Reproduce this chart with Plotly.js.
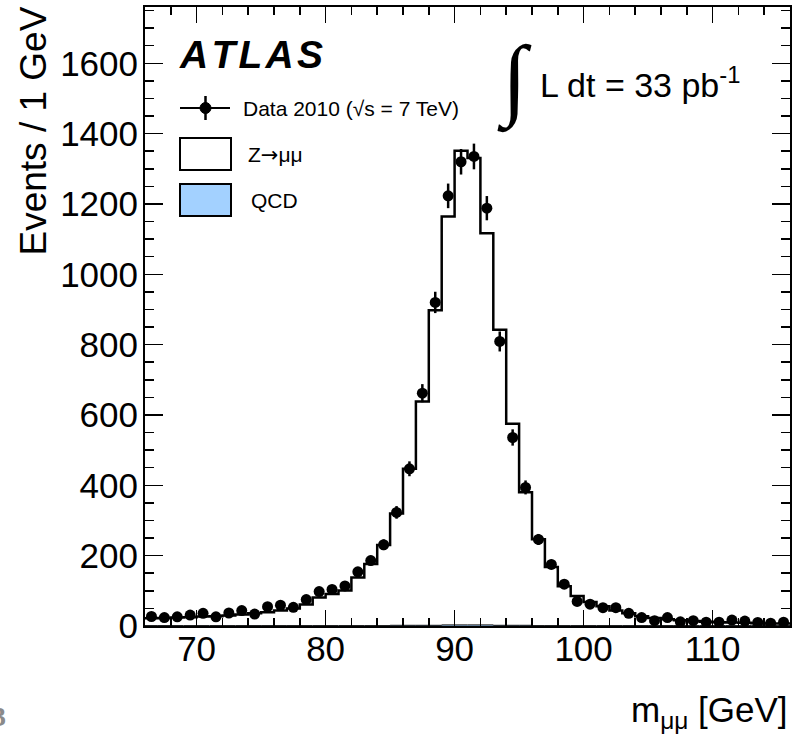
<!DOCTYPE html>
<html>
<head>
<meta charset="utf-8">
<script src="https://cdn.plot.ly/plotly-3.0.1.min.js"></script>
<style>
html,body{margin:0;padding:0;background:#fff;}
#chart{width:799px;height:735px;}
</style>
</head>
<body>
<div id="chart"></div>
<script>
// ---- data (1 GeV bins) ----
const binCenters = [66.5,67.5,68.5,69.5,70.5,71.5,72.5,73.5,74.5,75.5,
  76.5,77.5,78.5,79.5,80.5,81.5,82.5,83.5,84.5,85.5,
  86.5,87.5,88.5,89.5,90.5,91.5,92.5,93.5,94.5,95.5,
  96.5,97.5,98.5,99.5,100.5,101.5,102.5,103.5,104.5,105.5,
  106.5,107.5,108.5,109.5,110.5,111.5,112.5,113.5,114.5,115.5];
const dataCounts = [27,24,26,31,36,26,37,44,34,55,
  59,53,75,98,104,114,154,186,231,323,
  447,662,920,1223,1320,1335,1188,809,536,394,
  246,175,119,70,62,52,52,36,24,15,
  24,12,15,11,11,17,14,10,8,11];
const zmumu = [21,22,23,24,26,27,29,32,35,38,
  43,49,60,80,90,100,137,175,229,318,
  445,636,896,1161,1348,1328,1114,840,573,378,
  246,167,112,84,67,55,43,35,27,22,
  18,15,13,11,10,9,8,7,6,6];
const qcd = [1,1,1,1,1,1,1,1,1,1,
  1,1,1,1,1,1,1,1,1,2,
  2,2,2,3,3,3,3,2,2,2,
  1,1,1,1,1,1,1,1,1,1,
  1,1,1,1,1,1,1,1,1,1];
const legendLabels = ["Data 2010 (\u221As = 7 TeV)",
  "Z<span style=\"font-family:'DejaVu Sans'\">\u2192</span>\u03bc\u03bc", "QCD"];
const xTitle = "m<sub>\u03bc\u03bc</sub> [GeV]";
const yTitle = "Events / 1 GeV";

// ---- derived arrays ----
const edges = binCenters.map(c => c - 0.5).concat([binCenters[binCenters.length-1] + 0.5]);
const stack = zmumu.map((v,i) => v + qcd[i]);
const stackStep = stack.concat([stack[stack.length-1]]);
const qcdStep = qcd.concat([qcd[qcd.length-1]]);
const dataErr = dataCounts.map(v => Math.sqrt(v));

const FONT = "Liberation Sans, Arial, Helvetica, sans-serif";
const L = 145, R = 790, T = 7, B = 626;
const W = R - L, H = B - T;
const px = x => (x - L) / W;
const py = y => (B - y) / H;

const traces = [
  {x: edges, y: stackStep, type: 'scatter', mode: 'lines',
   line: {shape: 'hv', color: '#000', width: 2.5}, fill: 'tozeroy', fillcolor: '#ffffff',
   hoverinfo: 'skip', showlegend: false, name: 'Z'},
  {x: edges, y: qcdStep, type: 'scatter', mode: 'lines',
   line: {shape: 'hv', color: '#000', width: 1}, fill: 'tozeroy', fillcolor: '#a3d1ff',
   hoverinfo: 'skip', showlegend: false, name: 'QCD'},
  {x: binCenters, y: dataCounts, type: 'scatter', mode: 'markers',
   marker: {color: '#000', size: 11, symbol: 'circle'},
   error_y: {type: 'data', array: dataErr, visible: true, color: '#000', thickness: 2.5, width: 0},
   showlegend: false, name: 'Data'}
];

const shapes = [
  // legend: data
  {type: 'line', xref: 'paper', yref: 'paper', x0: px(180), x1: px(230), y0: py(108), y1: py(108), line: {color: '#000', width: 2}},
  {type: 'line', xref: 'paper', yref: 'paper', x0: px(205.5), x1: px(205.5), y0: py(96), y1: py(120), line: {color: '#000', width: 2.5}},
  {type: 'circle', xref: 'paper', yref: 'paper', x0: px(200), x1: px(211), y0: py(102.5), y1: py(113.5), fillcolor: '#000', line: {color: '#000', width: 1}},
  // legend: Z box
  {type: 'rect', xref: 'paper', yref: 'paper', x0: px(180), x1: px(231), y0: py(138), y1: py(170), fillcolor: '#ffffff', line: {color: '#000', width: 2}},
  // legend: QCD box
  {type: 'rect', xref: 'paper', yref: 'paper', x0: px(180), x1: px(231), y0: py(184), y1: py(216), fillcolor: '#a3d1ff', line: {color: '#000', width: 2}}
];

const annotations = [
  {text: '<b><i>A\u200aT\u200aL\u200aA\u200aS</i></b>', xref: 'paper', yref: 'paper', x: px(177), y: py(55), xanchor: 'left', yanchor: 'middle', showarrow: false,
   font: {family: FONT, size: 39, color: '#000'}},
  {text: '\u222b', xref: 'paper', yref: 'paper', x: px(514), y: py(80), xanchor: 'center', yanchor: 'middle', showarrow: false,
   font: {family: 'Liberation Serif, serif', size: 90, color: '#000'}},
  {text: 'L dt = 33 pb<sup>-1</sup>', xref: 'paper', yref: 'paper', x: px(538), y: py(82), xanchor: 'left', yanchor: 'middle', showarrow: false,
   font: {family: FONT, size: 34, color: '#000'}},
  {text: legendLabels[0], xref: 'paper', yref: 'paper', x: px(241), y: py(108), xanchor: 'left', yanchor: 'middle', showarrow: false,
   font: {family: FONT, size: 21, color: '#000'}},
  {text: legendLabels[1], xref: 'paper', yref: 'paper', x: px(246), y: py(155), xanchor: 'left', yanchor: 'middle', showarrow: false,
   font: {family: FONT, size: 21, color: '#000'}},
  {text: legendLabels[2], xref: 'paper', yref: 'paper', x: px(249), y: py(200), xanchor: 'left', yanchor: 'middle', showarrow: false,
   font: {family: FONT, size: 21, color: '#000'}},
  {text: xTitle, xref: 'paper', yref: 'paper', x: 1, y: py(712), xanchor: 'right', yanchor: 'middle', showarrow: false,
   font: {family: FONT, size: 35, color: '#000'}},
  {text: yTitle, xref: 'paper', yref: 'paper', x: px(33), y: py(5), xanchor: 'center', yanchor: 'top', textangle: -90, showarrow: false,
   font: {family: FONT, size: 37, color: '#000'}},
  {text: '<b>3</b>', xref: 'paper', yref: 'paper', x: px(8), y: py(716), xanchor: 'right', yanchor: 'middle', showarrow: false,
   font: {family: 'Liberation Serif, serif', size: 28, color: '#8a8a8a'}}
];

const axisCommon = {
  showline: true, linecolor: '#000', linewidth: 2, mirror: 'ticks',
  ticks: 'inside', tickcolor: '#000', tickwidth: 1.5,
  showgrid: false, zeroline: false,
  tickfont: {family: FONT, size: 35, color: '#000'}
};

const layout = {
  width: 799, height: 735,
  margin: {l: L, r: 799 - R, t: T, b: 735 - B, pad: 0},
  paper_bgcolor: '#fff', plot_bgcolor: '#fff',
  showlegend: false,
  xaxis: Object.assign({}, axisCommon, {
    range: [66, 116], tick0: 70, dtick: 10, ticklen: 16, ticklabelstandoff: -9,
    minor: {tick0: 70, dtick: 2, ticks: 'inside', ticklen: 8, tickwidth: 1.5, tickcolor: '#000', showgrid: false}
  }),
  yaxis: Object.assign({}, axisCommon, {
    range: [0, 1760], tick0: 0, dtick: 200, ticklen: 18, ticklabelstandoff: -2,
    minor: {tick0: 0, dtick: 50, ticks: 'inside', ticklen: 9, tickwidth: 1.5, tickcolor: '#000', showgrid: false}
  }),
  shapes: shapes,
  annotations: annotations
};

Plotly.newPlot('chart', traces, layout, {displayModeBar: false, staticPlot: true});
</script>
</body>
</html>
